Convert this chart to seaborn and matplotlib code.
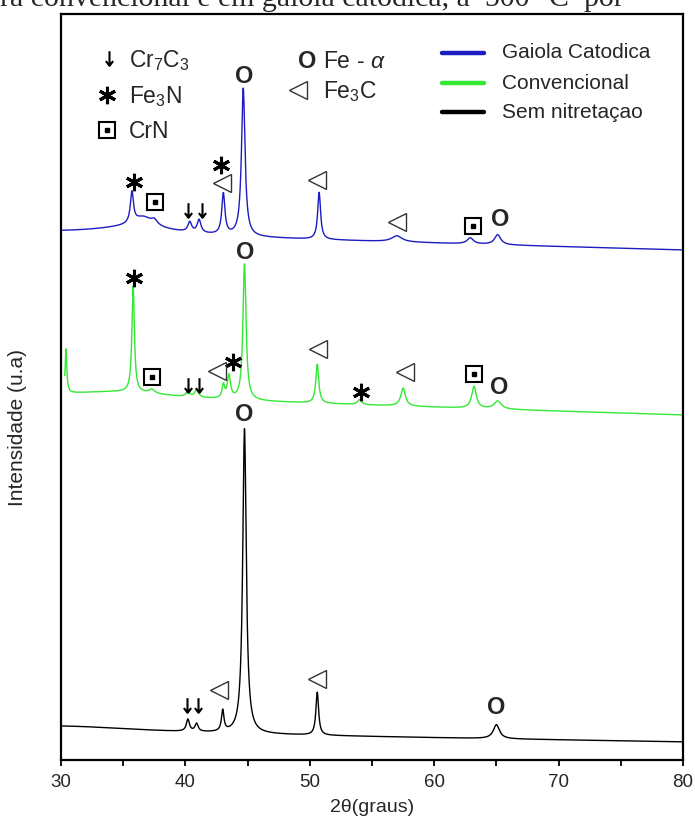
import numpy as np
import pandas as pd
import matplotlib
matplotlib.use("Agg")
import matplotlib.pyplot as plt
from matplotlib.lines import Line2D
from matplotlib.path import Path
from matplotlib.ticker import MultipleLocator
import seaborn as sns

# ---------------- data ----------------
series_names = ["Gaiola Catodica", "Convencional", "Sem nitretaçao"]
series_colors = ["#1c1cc0", "#33e833", "#000000"]
x_start = [30.0, 30.3, 30.0]
x_end = [80.0, 80.0, 80.0]

# baseline level at 30° and 80° (intensity, a.u.)
gaiola_baseline = [527, 510]
conv_baseline = [364, 345]
sem_baseline = [28, 18]

# peaks: position (2θ), height above baseline, half width
gaiola_pos = [36.0, 35.7, 36.6, 37.5, 40.35, 41.1, 43.05, 44.65, 50.75, 57.0, 62.9, 65.1]
gaiola_height = [8, 31, 10, 5, 10, 13, 41, 148, 47, 6, 6, 10]
gaiola_hwhm = [4.0, 0.15, 0.9, 0.3, 0.18, 0.18, 0.15, 0.17, 0.14, 0.5, 0.3, 0.3]

conv_pos = [35.0, 30.4, 35.8, 37.3, 40.2, 40.9, 43.05, 43.5, 44.75, 50.6, 54.0, 57.5, 63.2, 65.1]
conv_height = [6, 44, 106, 4, 6, 7, 13, 23, 136, 39, 5, 18, 22, 8]
conv_hwhm = [5.0, 0.08, 0.12, 0.3, 0.15, 0.2, 0.12, 0.15, 0.15, 0.14, 0.2, 0.22, 0.22, 0.35]

sem_pos = [30.0, 40.2, 40.9, 43.0, 44.75, 50.6, 65.0]
sem_height = [6, 12, 8, 21, 305, 43, 14]
sem_hwhm = [8.0, 0.15, 0.15, 0.12, 0.17, 0.13, 0.3]

# phase markers: (2θ, intensity)
star_marks = [(35.87, 578), (42.84, 595), (35.87, 482), (43.80, 398), (54.12, 368)]
tri_marks = [(42.92, 577), (50.55, 580), (56.99, 538), (42.52, 389), (50.63, 411),
             (57.65, 388), (42.70, 70), (50.55, 81)]
box_marks = [(37.56, 558), (63.09, 534), (37.29, 383), (63.20, 386)]
arrow_marks = [(40.23, 550), (41.31, 550), (40.23, 375), (41.09, 375), (40.15, 55), (40.99, 55)]
o_marks = [(44.71, 683), (65.29, 540), (44.79, 507), (65.23, 372), (44.71, 345), (65.02, 53)]

x_ticks = [30, 40, 50, 60, 70, 80]
caption = "ra convencional e em gaiola catódica, a  500 °C  por"


def profile(x, base, pos, height, hwhm):
    y = base[0] + (base[1] - base[0]) * (x - 30.0) / 50.0
    for p, h, w in zip(pos, height, hwhm):
        y = y + h / (1.0 + ((x - p) / w) ** 2)
    return y


params = [
    (gaiola_baseline, gaiola_pos, gaiola_height, gaiola_hwhm),
    (conv_baseline, conv_pos, conv_height, conv_hwhm),
    (sem_baseline, sem_pos, sem_height, sem_hwhm),
]
frames = []
for name, xs, xe, prm in zip(series_names, x_start, x_end, params):
    xx = np.linspace(xs, xe, 3000)
    frames.append(pd.DataFrame({"two_theta": xx, "intensidade": profile(xx, *prm), "amostra": name}))
df = pd.concat(frames, ignore_index=True)

# ---------------- figure ----------------
sns.set_theme(style="white")
plt.rcParams["font.family"] = ["Liberation Sans", "DejaVu Sans"]
plt.rcParams["mathtext.fontset"] = "custom"
plt.rcParams["mathtext.rm"] = "Liberation Sans"
plt.rcParams["mathtext.it"] = "Liberation Sans:italic"

W, H = 695, 818
fig = plt.figure(figsize=(W / 100, H / 100), dpi=100)
fig.patch.set_facecolor("white")
ax = fig.add_axes([61 / W, 1 - 760 / H, (683 - 61) / W, (760 - 14) / H])

sns.lineplot(data=df, x="two_theta", y="intensidade", hue="amostra",
             palette=dict(zip(series_names, series_colors)), hue_order=series_names,
             estimator=None, sort=False, legend=False, lw=1.0, ax=ax)

ax.set_xlim(30, 80)
ax.set_ylim(0, 746)
ax.set_yticks([])
ax.set_xticks(x_ticks)
ax.xaxis.set_minor_locator(MultipleLocator(5))
ax.tick_params(axis="x", which="both", direction="out", length=4, width=1.3,
               bottom=True, labelsize=13.5, pad=6, color="black")
ax.set_xlabel("")
ax.set_ylabel("")
for s in ax.spines.values():
    s.set_linewidth(1.6)
    s.set_color("black")

fig.text(372 / W, 1 - 808 / H, "2θ(graus)", ha="center", va="center", fontsize=14)
fig.text(18 / W, 1 - 428 / H, "Intensidade (u.a)", rotation=90, ha="center", va="center", fontsize=15)

# caption fragment cut at the top edge of the picture
fig.text(0, 1 - 6 / H, caption, ha="left", va="baseline", fontsize=21.5,
         family="Liberation Serif")

arrow_path = Path([(0, 1), (0, -1), (-0.5, -0.35), (0, -1), (0.5, -0.35)],
                  [Path.MOVETO, Path.LINETO, Path.MOVETO, Path.LINETO, Path.LINETO])


def star(x, y, tr):
    ax.plot([x], [y], ls="none", marker=(6, 2, 0), ms=12.5, mew=2.2, color="black",
            transform=tr, clip_on=False, zorder=5)


def tri(x, y, tr):
    ax.plot([x], [y], ls="none", marker="<", ms=12.5, mfc="none", mec="#333333", mew=1.0,
            transform=tr, clip_on=False, zorder=5)


def box(x, y, tr):
    ax.plot([x], [y], ls="none", marker="s", ms=11, mfc="white", mec="black", mew=1.5,
            transform=tr, clip_on=False, zorder=5)
    ax.plot([x], [y], ls="none", marker="s", ms=3, color="black",
            transform=tr, clip_on=False, zorder=6)


def arrow(x, y, tr):
    ax.plot([x], [y], ls="none", marker=arrow_path, ms=10.5, mew=1.5, mec="black",
            fillstyle="none", transform=tr, clip_on=False, zorder=5)


def omark(x, y, tr):
    ax.text(x, y, "O", ha="center", va="center", fontsize=17, fontweight="bold",
            transform=tr, zorder=5)


for x, y in star_marks:
    star(x, y, ax.transData)
for x, y in tri_marks:
    tri(x, y, ax.transData)
for x, y in box_marks:
    box(x, y, ax.transData)
for x, y in arrow_marks:
    arrow(x, y, ax.transData)
for x, y in o_marks:
    omark(x, y, ax.transData)

# ---------------- key of phases ----------------
ft = fig.transFigure
fx = lambda p: p / W
fy = lambda p: 1 - p / H
arrow(fx(109), fy(58), ft)
star(fx(107), fy(95), ft)
box(fx(107), fy(130), ft)
omark(fx(307), fy(62), ft)
tri(fx(298), fy(90), ft)
fig.text(fx(129), fy(67), r"Cr$_7$C$_3$", fontsize=16.5, va="baseline")
fig.text(fx(129), fy(103), r"Fe$_3$N", fontsize=16.5, va="baseline")
fig.text(fx(129), fy(138), "CrN", fontsize=16.5, va="baseline")
fig.text(fx(323), fy(68), r"Fe - $\alpha$", fontsize=16.5, va="baseline")
fig.text(fx(323), fy(98), r"Fe$_3$C", fontsize=16.5, va="baseline")

# ---------------- legend ----------------
for name, col, ly, ty in zip(series_names, series_colors, [53, 83, 112], [58.5, 89, 118.5]):
    fig.add_artist(Line2D([fx(442), fx(484)], [fy(ly), fy(ly)], color=col, lw=3.2,
                          transform=ft))
    fig.text(fx(502), fy(ty), name, fontsize=15, va="baseline")

fig.savefig("out.png", dpi=100)
